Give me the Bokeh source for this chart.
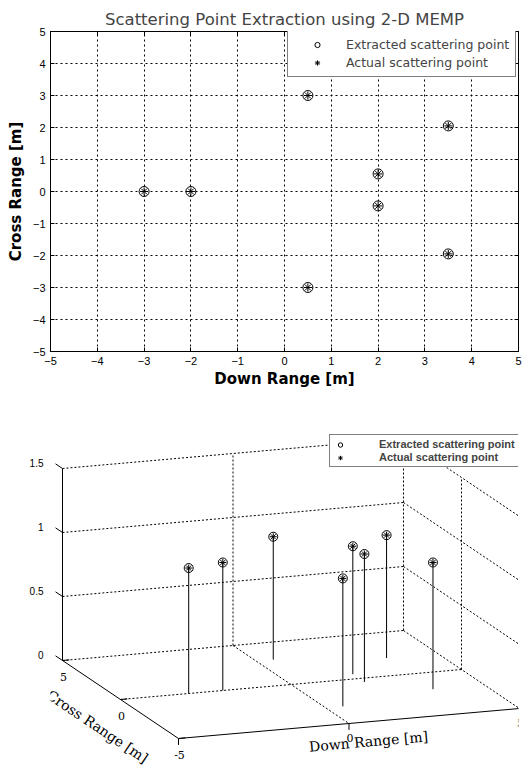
import numpy as np
from bokeh.plotting import figure
from bokeh.layouts import column
from bokeh.models import Range1d, FixedTicker, Legend, LegendItem, LinearAxis, Label
from bokeh.core.properties import value
from bokeh.embed import file_html
from bokeh.resources import INLINE

# ---------------- data ----------------
title_text = "Scattering Point Extraction using 2-D MEMP"
# extracted scattering points (down range, cross range) [m]
down_extracted = [-3.0, -2.0, 0.5, 0.5, 2.0, 2.0, 3.5, 3.5]
cross_extracted = [0.0, 0.0, 3.0, -3.0, 0.55, -0.45, 2.05, -1.95]
# actual scattering points
down_actual = [-3.0, -2.0, 0.5, 0.5, 2.0, 2.0, 3.5, 3.5]
cross_actual = [0.0, 0.0, 3.0, -3.0, 0.55, -0.45, 2.05, -1.95]
# amplitudes (3-D view)
amp_extracted = [0.98, 1.0, 0.96, 1.0, 1.0, 1.0, 0.96, 0.99]
amp_actual = [0.98, 1.0, 0.96, 1.0, 1.0, 1.0, 0.96, 0.99]

axis_ticks = [-5, -4, -3, -2, -1, 0, 1, 2, 3, 4, 5]
amp_ticks = [0, 0.5, 1, 1.5]
amp_tick_labels = ["0", "0.5", "1", "1.5"]
cross_ticks_3d = [5, 0, -5]
cross_tick_labels_3d = ["5", "0", "-5"]
down_ticks_3d = [0, 5]            # the -5 corner label is shared with cross range
down_tick_labels_3d = ["0", "5"]
range_lim = (-5, 5)
amp_lim = (0, 1.5)

legend_labels = ["Extracted scattering point", "Actual scattering point"]

SANS = "Liberation Sans"
DEJA = "DejaVu Sans"
SERIF = "DejaVu Serif"

# ---------------- top: 2-D scatter ----------------
p1 = figure(width=528, height=390, x_range=Range1d(*range_lim), y_range=Range1d(*range_lim),
            output_backend="svg", toolbar_location=None,
            min_border_left=50, min_border_right=10, min_border_top=31, min_border_bottom=39)
p1.title.text = title_text
p1.title.align = "center"
p1.title.text_font = DEJA
p1.title.text_font_size = "16.5px"
p1.title.text_font_style = "normal"
p1.title.standoff = 6
p1.outline_line_color = "black"
p1.outline_line_width = 1
for ax in (p1.xaxis, p1.yaxis):
    ax.ticker = FixedTicker(ticks=axis_ticks)
    ax.major_label_text_font = SANS
    ax.major_label_text_font_size = "11px"
    ax.major_label_text_color = "black"
    ax.axis_label_text_font = DEJA
    ax.axis_label_text_font_size = "15px"
    ax.axis_label_text_font_style = "bold"
    ax.axis_label_text_color = "black"
    ax.major_tick_in = 4
    ax.major_tick_out = 0
    ax.minor_tick_line_color = None
    ax.axis_line_color = "black"
    ax.major_tick_line_color = "black"
p1.xaxis.axis_label = "Down Range [m]"
p1.yaxis.axis_label = "Cross Range [m]"
p1.xaxis.major_label_standoff = 5
p1.xaxis.axis_label_standoff = 2
p1.yaxis.major_label_standoff = 5
p1.yaxis.axis_label_standoff = 5

# inward ticks on the top and right edges of the box (no labels)
for side in ("above", "right"):
    box_axis = LinearAxis(ticker=FixedTicker(ticks=axis_ticks),
                          major_label_overrides={t: "" for t in axis_ticks},
                          major_label_text_font_size="1px", major_label_standoff=0,
                          major_tick_in=4, major_tick_out=0, minor_tick_line_color=None,
                          axis_line_color="black", major_tick_line_color="black")
    p1.add_layout(box_axis, side)

p1.grid.ticker = FixedTicker(ticks=axis_ticks)
p1.grid.grid_line_color = "black"
p1.grid.grid_line_dash = "2 3"
p1.grid.grid_line_width = 1

r_ext = p1.scatter(down_extracted, cross_extracted, marker="circle", size=10,
                   fill_color=None, line_color="black", line_width=1)
r_act = p1.scatter(down_actual, cross_actual, marker="asterisk", size=8,
                   line_color="black", line_width=1)
leg1 = Legend(items=[LegendItem(label=legend_labels[0], renderers=[r_ext]),
                     LegendItem(label=legend_labels[1], renderers=[r_act])],
              location=(237, 274), margin=0, padding=6, spacing=3,
              label_height=13, glyph_height=13, glyph_width=46, label_standoff=6,
              label_text_font=DEJA, label_text_font_size="12.5px",
              border_line_color="black", border_line_width=1,
              background_fill_color="white", background_fill_alpha=1)
p1.add_layout(leg1)

# ---------------- bottom: 3-D stem view (projected) ----------------
# view coordinates are page pixels (x to the right, y downwards)
X0, X1 = 50, 518          # frame, aligned with the upper plot
Y0, Y1 = 390, 766
ORIGIN = np.array([62.0, 660.0])       # view position of (down=-5, cross=+5, amp=0)
E_DOWN = np.array([34.1, -3.0])        # per metre of down range
E_CROSS = np.array([-11.6, -7.8])      # per metre of cross range
E_AMP = np.array([0.0, -128.0])        # per unit amplitude
LABEL_RISE = 6                         # amplitude labels sit a little above their ticks


def proj(d, c, z):
    d = np.asarray(d, float); c = np.asarray(c, float); z = np.asarray(z, float)
    x = ORIGIN[0] + E_DOWN[0] * (d - range_lim[0]) + E_CROSS[0] * (c - range_lim[1]) + E_AMP[0] * z
    y = ORIGIN[1] + E_DOWN[1] * (d - range_lim[0]) + E_CROSS[1] * (c - range_lim[1]) + E_AMP[1] * z
    return x, y


def seg(p, q):
    x0, y0 = proj(*p)
    x1, y1 = proj(*q)
    return [float(x0), float(x1)], [float(y0), float(y1)]


amp_at = lambda y: (ORIGIN[1] - LABEL_RISE - y) / -E_AMP[1]

p2 = figure(width=528, height=Y1 - Y0, x_range=Range1d(X0, X1), y_range=Range1d(Y1, Y0),
            output_backend="svg", toolbar_location=None,
            min_border_left=50, min_border_right=10, min_border_top=0, min_border_bottom=0,
            x_axis_location=None, y_axis_location=None)
p2.outline_line_color = None
p2.xgrid.visible = False
p2.ygrid.visible = False
p2.extra_y_ranges = {"amp": Range1d(amp_at(Y1), amp_at(Y0))}
amp_axis = LinearAxis(y_range_name="amp", ticker=FixedTicker(ticks=amp_ticks),
                      major_label_overrides={t: l for t, l in zip(amp_ticks, amp_tick_labels)},
                      axis_line_color=None, major_tick_line_color=None, minor_tick_line_color=None,
                      major_label_standoff=1, major_label_text_font=SANS,
                      major_label_text_font_size="10px", major_label_text_color="black")
p2.add_layout(amp_axis, "left")

dlo, dhi = range_lim
chi, clo = range_lim[1], range_lim[0]
ztop = amp_lim[1]

dotted = []
for z in amp_ticks:
    dotted.append(seg((dlo, chi, z), (dhi, chi, z)))     # back wall
    dotted.append(seg((dhi, chi, z), (dhi, clo, z)))     # right wall
for d in [0, 5]:
    dotted.append(seg((d, chi, 0), (d, chi, ztop)))
for c in [0, -5]:
    dotted.append(seg((dhi, c, 0), (dhi, c, ztop)))
dotted.append(seg((0, chi, 0), (0, clo, 0)))              # floor grid
dotted.append(seg((dlo, 0, 0), (dhi, 0, 0)))
p2.multi_line([s[0] for s in dotted], [s[1] for s in dotted],
              line_color="black", line_width=1, line_dash="2 2")

solid = [seg((dlo, chi, 0), (dlo, chi, ztop)),            # amplitude axis
         seg((dlo, chi, 0), (dlo, clo, 0)),               # cross range axis
         seg((dlo, clo, 0), (dhi, clo, 0))]               # down range axis
for z in amp_ticks:
    solid.append(seg((dlo, chi, z), (dlo, chi + 0.6, z)))
for c in cross_ticks_3d:
    solid.append(seg((dlo, c, 0), (dlo + 0.2, c, 0)))
for d in [-5] + down_ticks_3d:
    solid.append(seg((d, clo, 0), (d, clo, -0.05)))
p2.multi_line([s[0] for s in solid], [s[1] for s in solid], line_color="black", line_width=1)

# stems
stems = [seg((d, c, 0), (d, c, a)) for d, c, a in zip(down_extracted, cross_extracted, amp_extracted)]
p2.multi_line([s[0] for s in stems], [s[1] for s in stems], line_color="black", line_width=1)
ex, ey = proj(down_extracted, cross_extracted, amp_extracted)
ax_, ay_ = proj(down_actual, cross_actual, amp_actual)
r3e = p2.scatter(ex, ey, marker="circle", size=9, fill_color=None, line_color="black", line_width=1)
r3a = p2.scatter(ax_, ay_, marker="asterisk", size=7, line_color="black", line_width=1)

# tick labels of the floor axes
cx, cy = proj([dlo] * 3, cross_ticks_3d, [0] * 3)
dx, dy = proj(down_ticks_3d, [clo] * len(down_ticks_3d), [0] * len(down_ticks_3d))
for x, y, t in zip(list(cx + 1) + list(dx + 1), list(cy + 16) + list(dy + 14),
                   cross_tick_labels_3d + down_tick_labels_3d):
    p2.add_layout(Label(x=float(x), y=float(y), text=t, text_align="center",
                        text_baseline="middle", text_font=SERIF,
                        text_font_size="11px", text_color="black"))

# axis titles
p2.add_layout(Label(x=12.5, y=561, text="Amplitude", angle=np.pi / 2, text_align="center",
                    text_baseline="middle", text_font=SANS, text_font_size="14px",
                    text_font_style="bold", text_color="black"))
p2.add_layout(Label(x=97, y=726, text="Cross Range [m]", angle=-np.arctan2(7.8, 11.6),
                    text_align="center", text_baseline="middle", text_font=SERIF,
                    text_font_size="14px", text_color="black"))
p2.add_layout(Label(x=368, y=741, text="Down Range [m]", angle=np.arctan2(3.0, 34.1),
                    text_align="center", text_baseline="middle", text_font=SERIF,
                    text_font_size="14px", text_color="black"))

leg2 = Legend(items=[LegendItem(label=legend_labels[0], renderers=[r3e]),
                     LegendItem(label=legend_labels[1], renderers=[r3a])],
              location=(279, 299), margin=0, padding=3, spacing=1,
              label_height=11, glyph_height=11, glyph_width=14, label_standoff=32,
              label_text_font=SANS, label_text_font_size="11px", label_text_font_style="bold",
              border_line_color="black", border_line_width=1,
              background_fill_color="white", background_fill_alpha=1)
p2.add_layout(leg2)

layout = column(p1, p2, spacing=0)
open("out.html", "w").write(file_html(layout, INLINE))
